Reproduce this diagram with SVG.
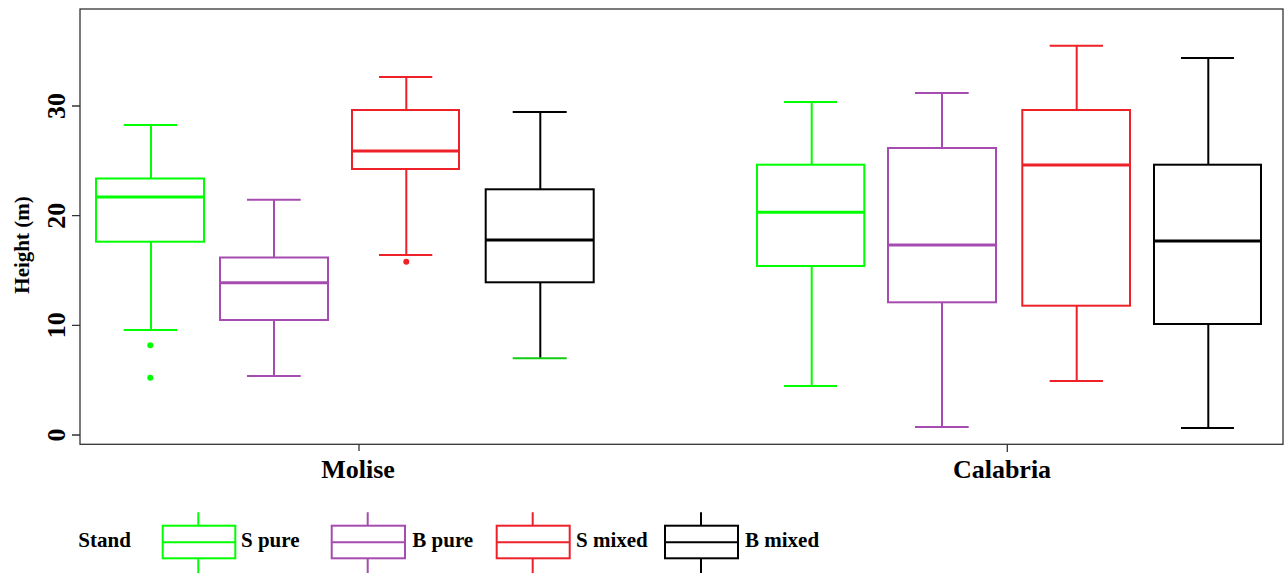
<svg xmlns="http://www.w3.org/2000/svg" width="1284" height="573" viewBox="0 0 1284 573">
<style>
text{font-family:"Liberation Serif","Times New Roman",serif;font-weight:bold;fill:#000}
.ax{fill:none;stroke:#333;stroke-width:1.3}
.box{fill:none;stroke-width:2}
.med{stroke-width:3}
.wh{stroke-width:2}
.g{stroke:#00FF00}
.p{stroke:#A64CB0}
.r{stroke:#EE2028}
.k{stroke:#000}
.tick{font-size:26px}
.grp{font-size:26px}
.leg{font-size:21px}
</style>
<rect width="1284" height="573" fill="#fff"/>
<g id="axes">
<rect class="ax" x="80" y="9" width="1203" height="435.3"/>
<path class="ax" d="M72 435H80M72 325.3H80M72 215.7H80M72 106H80M359 444.3V451M1007.3 444.3V452"/>
<text class="tick" transform="translate(65,435) rotate(-90)" text-anchor="middle">0</text>
<text class="tick" transform="translate(65,325.3) rotate(-90)" text-anchor="middle">10</text>
<text class="tick" transform="translate(65,215.7) rotate(-90)" text-anchor="middle">20</text>
<text class="tick" transform="translate(65,106) rotate(-90)" text-anchor="middle">30</text>
<text style="font-size:21px" transform="translate(29,245) rotate(-90)" text-anchor="middle">Height (m)</text>
<text class="grp" x="358" y="477.7" text-anchor="middle">Molise</text>
<text class="grp" x="1002" y="477.7" text-anchor="middle">Calabria</text>
</g>
<g id="molise-s-pure">
<path class="wh g" d="M151 125V178.5M151 241.7V330M123.7 125H177M123.7 330H177"/>
<rect class="box g" x="96" y="178.5" width="108" height="63.2"/>
<path class="med g" d="M96 197H204"/>
<circle cx="150.3" cy="345.3" r="3" fill="#00FF00"/>
<circle cx="150.3" cy="377.7" r="3" fill="#00FF00"/>
</g>
<g id="molise-b-pure">
<path class="wh p" d="M274 199.7V257.5M274 320V376M247 199.7H300.7M247 376H300.7"/>
<rect class="box p" x="220" y="257.5" width="108" height="62.5"/>
<path class="med p" d="M220 282.7H328"/>
</g>
<g id="molise-s-mixed">
<path class="wh r" d="M406.3 77V110M406.3 169V255M379 77H432.3M379 255H432.3"/>
<rect class="box r" x="352" y="110" width="107" height="59"/>
<path class="med r" d="M352 151H459"/>
<circle cx="406.3" cy="261.7" r="3" fill="#EE2028"/>
</g>
<g id="molise-b-mixed">
<path class="wh k" d="M540.3 112V189.3M540.3 282.3V358.3M512.7 112H566.7"/>
<path class="wh" stroke="#11CC11" d="M512.7 358.3H566.7"/>
<rect class="box k" x="485.7" y="189.3" width="108" height="93"/>
<path class="med k" d="M485.7 240H593.7"/>
</g>
<g id="calabria-s-pure">
<path class="wh g" d="M811.7 102V164.7M811.7 266V386M784 102H837M784 386H837"/>
<rect class="box g" x="757" y="164.7" width="107.3" height="101.3"/>
<path class="med g" d="M757 212.3H864.3"/>
</g>
<g id="calabria-b-pure">
<path class="wh p" d="M942 93V148M942 302.3V427M915 93H968.7M915 427H968.7"/>
<rect class="box p" x="888" y="148" width="108" height="154.3"/>
<path class="med p" d="M888 245H996"/>
</g>
<g id="calabria-s-mixed">
<path class="wh r" d="M1076.7 45.7V110M1076.7 305.7V381M1049.7 45.7H1103M1049.7 381H1103"/>
<rect class="box r" x="1022.3" y="110" width="107.7" height="195.7"/>
<path class="med r" d="M1022.3 165H1130"/>
</g>
<g id="calabria-b-mixed">
<path class="wh k" d="M1208.3 58V164.7M1208.3 324V428M1181 58H1234M1181 428H1234"/>
<rect class="box k" x="1154" y="164.7" width="107" height="159.3"/>
<path class="med k" d="M1154 241H1261"/>
</g>
<g id="legend">
<text class="leg" x="78.3" y="546.7">Stand</text>
<g id="leg-s-pure">
<path class="wh g" d="M198.3 512.3V525.7M198.3 558.3V573M162.7 542.3H235.3"/>
<rect class="box g" x="162.7" y="525.7" width="72.6" height="32.6"/>
<text class="leg" x="241" y="546.7">S pure</text>
</g>
<g id="leg-b-pure">
<path class="wh p" d="M367.7 512.3V525.7M367.7 558.3V573M331.7 542.3H405"/>
<rect class="box p" x="331.7" y="525.7" width="73.3" height="32.6"/>
<text class="leg" x="412.3" y="546.7">B pure</text>
</g>
<g id="leg-s-mixed">
<path class="wh r" d="M532.7 512.3V525.7M532.7 558.3V573M496.7 542.3H569.7"/>
<rect class="box r" x="496.7" y="525.7" width="73" height="32.6"/>
<text class="leg" x="576" y="546.7">S mixed</text>
</g>
<g id="leg-b-mixed">
<path class="wh k" d="M701 512.3V525.7M701 558.3V573M665 542.3H738"/>
<rect class="box k" x="665" y="525.7" width="73" height="32.6"/>
<text class="leg" x="745" y="546.7">B mixed</text>
</g>
</g>
</svg>
